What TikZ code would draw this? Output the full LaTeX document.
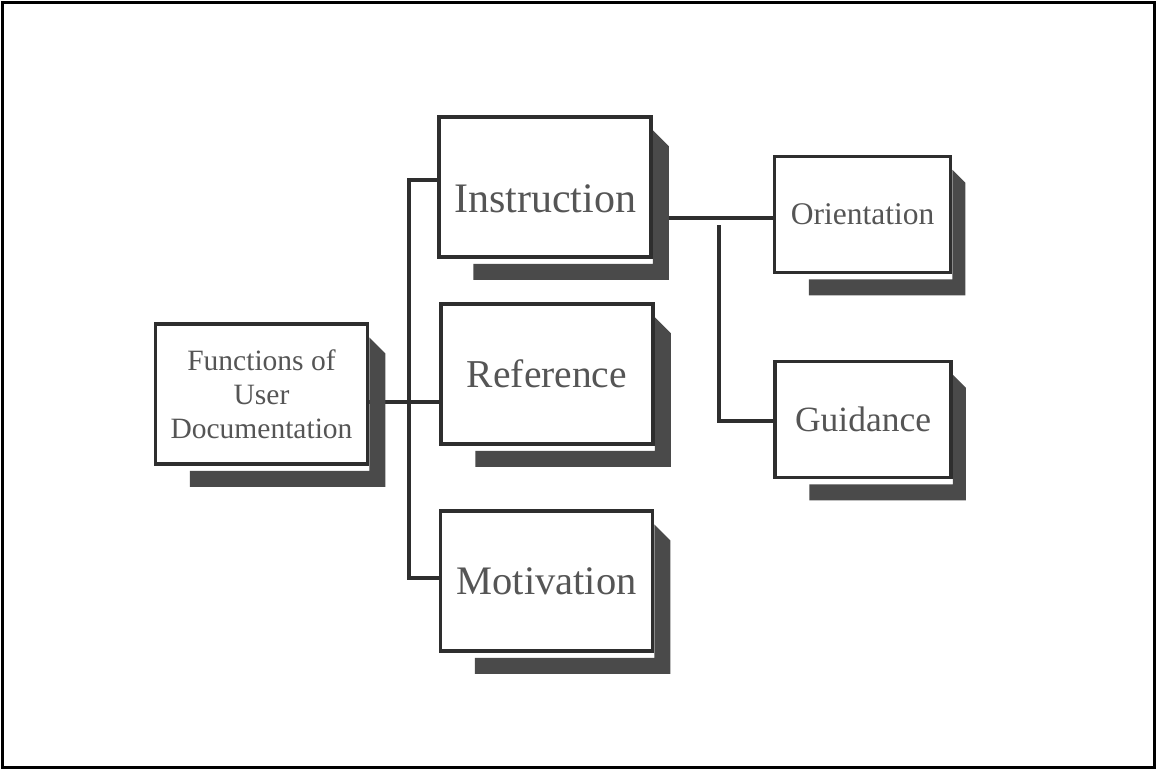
\documentclass[tikz,border=0pt]{standalone}
\usepackage{fontspec}
\setmainfont{Liberation Serif}
\usetikzlibrary{calc,backgrounds}

\definecolor{inkline}{HTML}{2E2E2E}
\definecolor{inktext}{HTML}{555555}
\definecolor{dropgray}{HTML}{4A4A4A}

\tikzset{
	panel/.style={draw=inkline, line width=3.5pt, fill=white, text=inktext, inner sep=0pt, align=center},
	bigpanel/.style={panel, minimum width=212pt, minimum height=140pt},
	smallpanel/.style={panel, minimum width=176pt, minimum height=116pt},
	link/.style={draw=inkline, line width=3.5pt},
}

% dark drop shadow behind a panel: #1 = depth, #2 = node
\newcommand{\panelshade}[2][16]{%
	\fill[dropgray] ($(#2.north east)+(0,15)$) -- ++(#1,#1)
		-- ($(#2.south east)+(#1,21)$) -- ($(#2.south west)+(36,21)$)
		-- ($(#2.south west)+(36,5)$) -- ($(#2.south east)+(0,5)$) -- cycle;}

\begin{document}
\begin{tikzpicture}[x=1pt, y=-1pt]
	\useasboundingbox (0,0) rectangle (1156,769);

	\node[bigpanel, font=\fontsize{29.5}{34}\selectfont] (func) at (261.5,394) {Functions of\\User\\Documentation};
	\node[bigpanel, font=\fontsize{42}{48}\selectfont, text height=50pt, text depth=0pt] (instr) at (545,187) {Instruction};
	\node[bigpanel, font=\fontsize{39.5}{45}\selectfont] (ref) at (547,374) {Reference};
	\node[bigpanel, font=\fontsize{40.5}{46}\selectfont] (motiv) at (546.5,581) {Motivation};
	\node[smallpanel, font=\fontsize{31.5}{36}\selectfont] (orient) at (862.5,214.5) {Orientation};
	\node[smallpanel, font=\fontsize{35.5}{40}\selectfont] (guid) at (863,419.5) {Guidance};

	% bus on the left and branch on the right
	\coordinate (busTop) at (409,180);
	\coordinate (busMid) at (409,402);
	\coordinate (busBot) at (409,578);
	\coordinate (split) at (719,218);
	\coordinate (drop) at (719,225);
	\coordinate (corner) at (719,421);

	\begin{pgfonlayer}{background}
		\draw[link] (busMid -| func) -- (busMid) -- (busMid -| ref);
		\draw[link] (busTop -| instr) -- (busTop) -- (busBot) -- (busBot -| motiv);
		\draw[link] (split -| instr) -- (split -| orient);
		\draw[link] (drop) -- (corner) -- (corner -| guid);
		\foreach \n in {func,instr,ref,motiv}
			\panelshade{\n};
		\foreach \n in {orient,guid}
			\panelshade[13]{\n};
	\end{pgfonlayer}

	\draw[line width=3pt] (2,2) rectangle (1154,767);
\end{tikzpicture}
\end{document}
